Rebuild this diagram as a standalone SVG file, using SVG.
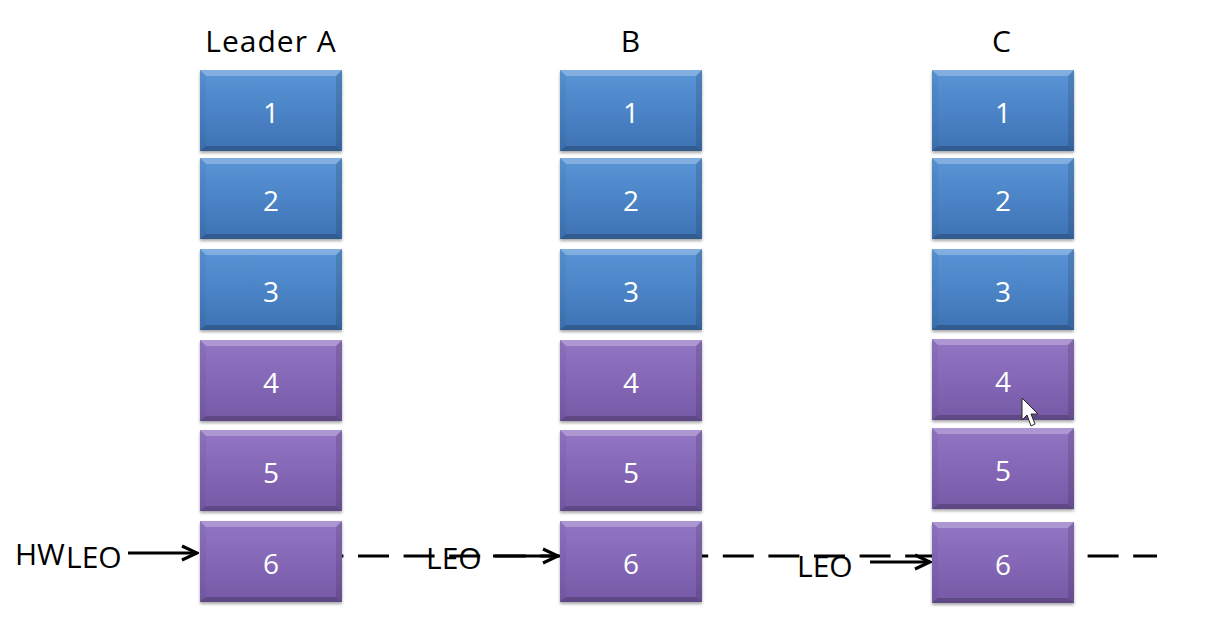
<svg xmlns="http://www.w3.org/2000/svg" xmlns:xlink="http://www.w3.org/1999/xlink" width="1212" height="630" viewBox="0 0 1212 630">
<style>
.hdr{font-family:"Open Sans","Liberation Sans",sans-serif;font-size:30px;fill:#000;text-anchor:middle;letter-spacing:1px}
.num{font-family:"Open Sans","Liberation Sans",sans-serif;font-size:28px;fill:#fff;text-anchor:middle}
.lbl{font-family:"Open Sans","Liberation Sans",sans-serif;font-size:30px;fill:#000}
.conn{stroke:#000;stroke-width:3.2;fill:none}
.dash{stroke:#000;stroke-width:3.2;fill:none;stroke-dasharray:31 14.6}
.box{filter:url(#sh)}
</style>
<defs>
<linearGradient id="gb" x1="0" y1="0" x2="0" y2="1">
<stop offset="0" stop-color="#5a95d6"/>
<stop offset="0.5" stop-color="#4b84c7"/>
<stop offset="1" stop-color="#3d72b3"/>
</linearGradient>
<linearGradient id="gp" x1="0" y1="0" x2="0" y2="1">
<stop offset="0" stop-color="#9276c4"/>
<stop offset="0.5" stop-color="#8467b6"/>
<stop offset="1" stop-color="#7559a6"/>
</linearGradient>
<filter id="sh" x="-10%" y="-10%" width="120%" height="125%">
<feDropShadow dx="0" dy="2" stdDeviation="1.5" flood-color="#000" flood-opacity="0.35"/>
</filter>
<g id="bev">
<polygon points="0,0 142,0 136,6 6,6" fill="#fff" fill-opacity="0.25"/>
<polygon points="0,81 142,81 136,76 6,76" fill="#000" fill-opacity="0.2"/>
<polygon points="0,0 6,6 6,76 0,81" fill="#000" fill-opacity="0.04"/>
<polygon points="142,0 136,6 136,76 142,81" fill="#000" fill-opacity="0.12"/>
</g>
<g id="blue"><rect width="142" height="81" fill="url(#gb)"/><use href="#bev"/></g>
<g id="purple"><rect width="142" height="81" fill="url(#gp)"/><use href="#bev"/></g>
<marker id="arr" markerUnits="userSpaceOnUse" markerWidth="20" markerHeight="20" viewBox="0 0 20 20" refX="18" refY="10" orient="auto">
<path d="M3,3 L18,10 L3,17" stroke="#000" stroke-width="3.2" fill="none"/>
</marker>
</defs>
<rect width="1212" height="630" fill="#fff"/>

<g id="connectors">
<line class="dash" x1="312.4" y1="556" x2="1157" y2="556"/>
<line class="conn" x1="128" y1="553" x2="197" y2="553" marker-end="url(#arr)"/>
<line class="conn" x1="493" y1="556" x2="558" y2="556" marker-end="url(#arr)"/>
<line class="conn" x1="870" y1="562" x2="930" y2="562" marker-end="url(#arr)"/>
</g>

<g id="headers">
<text class="hdr" x="271" y="52">Leader A</text>
<text class="hdr" x="631" y="52">B</text>
<text class="hdr" x="1002" y="52">C</text>
</g>

<g id="labels">
<text class="lbl" x="15" y="565">HW</text>
<text class="lbl" x="66" y="568">LEO</text>
<text class="lbl" x="426" y="569">LEO</text>
<text class="lbl" x="797" y="577">LEO</text>
</g>

<g id="A1"><use class="box" href="#blue" x="200" y="70"/><text class="num" x="271" y="123">1</text></g>
<g id="A2"><use class="box" href="#blue" x="200" y="158"/><text class="num" x="271" y="211">2</text></g>
<g id="A3"><use class="box" href="#blue" x="200" y="249"/><text class="num" x="271" y="302">3</text></g>
<g id="A4"><use class="box" href="#purple" x="200" y="340"/><text class="num" x="271" y="393">4</text></g>
<g id="A5"><use class="box" href="#purple" x="200" y="430"/><text class="num" x="271" y="483">5</text></g>
<g id="A6"><use class="box" href="#purple" x="200" y="521"/><text class="num" x="271" y="574">6</text></g>

<g id="B1"><use class="box" href="#blue" x="560" y="70"/><text class="num" x="631" y="123">1</text></g>
<g id="B2"><use class="box" href="#blue" x="560" y="158"/><text class="num" x="631" y="211">2</text></g>
<g id="B3"><use class="box" href="#blue" x="560" y="249"/><text class="num" x="631" y="302">3</text></g>
<g id="B4"><use class="box" href="#purple" x="560" y="340"/><text class="num" x="631" y="393">4</text></g>
<g id="B5"><use class="box" href="#purple" x="560" y="430"/><text class="num" x="631" y="483">5</text></g>
<g id="B6"><use class="box" href="#purple" x="560" y="521"/><text class="num" x="631" y="574">6</text></g>

<g id="C1"><use class="box" href="#blue" x="932" y="70"/><text class="num" x="1003" y="123">1</text></g>
<g id="C2"><use class="box" href="#blue" x="932" y="158"/><text class="num" x="1003" y="211">2</text></g>
<g id="C3"><use class="box" href="#blue" x="932" y="249"/><text class="num" x="1003" y="302">3</text></g>
<g id="C4"><use class="box" href="#purple" x="932" y="339"/><text class="num" x="1003" y="392">4</text></g>
<g id="C5"><use class="box" href="#purple" x="932" y="428"/><text class="num" x="1003" y="481">5</text></g>
<g id="C6"><use class="box" href="#purple" x="932" y="522"/><text class="num" x="1003" y="575">6</text></g>

<g id="cursor">
<polygon points="1022,398 1022,420 1027,415 1031,426 1035,424 1031,414 1038,414" fill="#fff" stroke="#222" stroke-width="1"/>
</g>
</svg>
